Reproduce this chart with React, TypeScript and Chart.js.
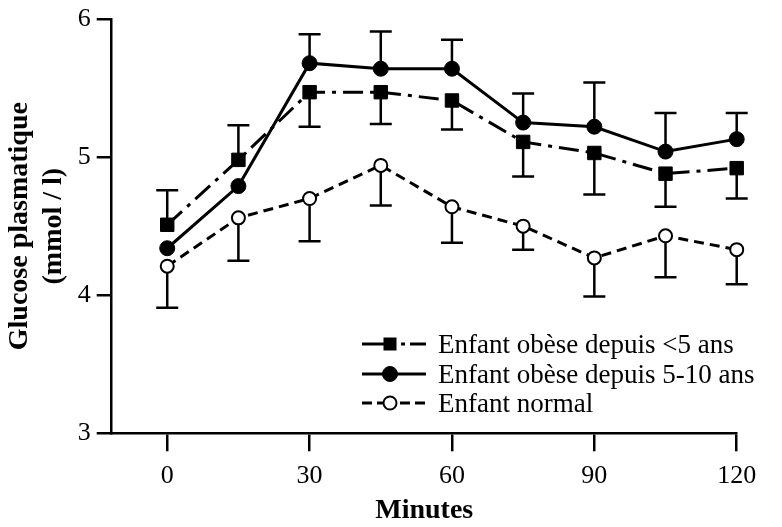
import React, { useEffect, useRef } from "react";
import { Chart, registerables } from "chart.js";

Chart.register(...registerables);

// ---- data ----
const minutes = [0, 15, 30, 45, 60, 75, 90, 105, 120];
const xTickValues = [0, 30, 60, 90, 120];
const yTickValues = [3, 4, 5, 6];
const seriesLabels = [
  "Enfant obèse depuis <5 ans",
  "Enfant obèse depuis 5-10 ans",
  "Enfant normal",
];
const obeseUnder5 = [4.51, 4.98, 5.47, 5.47, 5.41, 5.11, 5.03, 4.88, 4.92];
const obeseUnder5Upper = [4.76, 5.23, null, null, null, null, null, null, null];
const obeseUnder5Lower = [null, null, 5.22, 5.24, 5.2, 4.86, 4.73, 4.64, 4.7];
const obese5to10 = [4.34, 4.79, 5.68, 5.64, 5.64, 5.25, 5.22, 5.04, 5.13];
const obese5to10Upper = [null, null, 5.89, 5.91, 5.85, 5.46, 5.54, 5.32, 5.32];
const normalChild = [4.21, 4.56, 4.7, 4.94, 4.64, 4.5, 4.27, 4.43, 4.33];
const normalChildLower = [3.91, 4.25, 4.39, 4.65, 4.38, 4.33, 3.99, 4.13, 4.08];

const W = 782;
const H = 527;
const FONT = "'Liberation Serif', 'Times New Roman', serif";

type Bars = { upper: (number | null)[]; lower: (number | null)[] };
const errorBars: Bars[] = [
  { upper: obeseUnder5Upper, lower: obeseUnder5Lower },
  { upper: obese5to10Upper, lower: minutes.map(() => null) },
  { upper: minutes.map(() => null), lower: normalChildLower },
];

const errorBarPlugin = {
  id: "errorBars",
  beforeDatasetsDraw(chart: any) {
    const { ctx } = chart;
    const xs = chart.scales.x;
    const ys = chart.scales.y;
    ctx.save();
    ctx.strokeStyle = "#000";
    ctx.lineWidth = 2.5;
    ctx.setLineDash([]);
    const cap = 11;
    errorBars.forEach((b, di) => {
      const vals = chart.data.datasets[di].data as { x: number; y: number }[];
      vals.forEach((p, i) => {
        const px = xs.getPixelForValue(p.x);
        const py = ys.getPixelForValue(p.y);
        [b.upper[i], b.lower[i]].forEach((e) => {
          if (e === null || e === undefined) return;
          const ey = ys.getPixelForValue(e);
          ctx.beginPath();
          ctx.moveTo(px, py);
          ctx.lineTo(px, ey);
          ctx.moveTo(px - cap, ey);
          ctx.lineTo(px + cap, ey);
          ctx.stroke();
        });
      });
    });
    ctx.restore();
  },
};

const legendPlugin = {
  id: "customLegend",
  afterDraw(chart: any) {
    const { ctx } = chart;
    const rows = [353, 383, 412];
    const x0 = 362;
    const x1 = 426;
    const mx = 390;
    const tx = 438;
    ctx.save();
    chart.data.datasets.forEach((ds: any, i: number) => {
      const y = rows[i] - 9;
      ctx.strokeStyle = "#000";
      ctx.lineWidth = 3;
      ctx.beginPath();
      if (i === 0) ctx.setLineDash([23, 16, 4, 5, 16, 100]);
      else if (i === 2) ctx.setLineDash([10, 5, 9, 14, 10, 5, 10, 100]);
      else ctx.setLineDash([]);
      ctx.moveTo(x0, y);
      ctx.lineTo(x1, y);
      ctx.stroke();
      ctx.setLineDash([]);
      ctx.fillStyle = ds.pointBackgroundColor;
      ctx.lineWidth = ds.pointBorderWidth;
      ctx.beginPath();
      if (ds.pointStyle === "rect") {
        ctx.rect(mx - 6.5, y - 6.5, 13, 13);
        ctx.fill();
      } else {
        ctx.arc(mx, y, ds.pointRadius, 0, Math.PI * 2);
        ctx.fill();
        ctx.stroke();
      }
      ctx.fillStyle = "#000";
      ctx.font = `27px ${FONT}`;
      ctx.textAlign = "left";
      ctx.textBaseline = "alphabetic";
      ctx.fillText(ds.label, tx, rows[i]);
    });
    ctx.restore();
  },
};

export default function App() {
  const ref = useRef<HTMLCanvasElement | null>(null);
  useEffect(() => {
    if (!ref.current) return;
    Chart.defaults.font.family = FONT;
    Chart.defaults.color = "#000";
    const mk = (vals: number[]) => minutes.map((m, i) => ({ x: m, y: vals[i] }));
    const chart = new Chart(ref.current, {
      type: "line",
      data: {
        datasets: [
          {
            label: seriesLabels[0],
            data: mk(obeseUnder5),
            borderColor: "#000",
            borderWidth: 3,
            borderDash: [20, 7, 4, 7],
            pointStyle: "rect",
            pointRadius: 9.5,
            pointBackgroundColor: "#000",
            pointBorderColor: "#000",
            pointBorderWidth: 1,
            tension: 0,
            fill: false,
            clip: false,
          },
          {
            label: seriesLabels[1],
            data: mk(obese5to10),
            borderColor: "#000",
            borderWidth: 3,
            pointStyle: "circle",
            pointRadius: 7.5,
            pointBackgroundColor: "#000",
            pointBorderColor: "#000",
            pointBorderWidth: 1,
            tension: 0,
            fill: false,
            clip: false,
          },
          {
            label: seriesLabels[2],
            data: mk(normalChild),
            borderColor: "#000",
            borderWidth: 3,
            borderDash: [10, 6],
            pointStyle: "circle",
            pointRadius: 6.5,
            pointBackgroundColor: "#fff",
            pointBorderColor: "#000",
            pointBorderWidth: 2,
            tension: 0,
            fill: false,
            clip: false,
          },
        ],
      } as any,
      options: {
        animation: false,
        responsive: false,
        devicePixelRatio: 1,
        events: [],
        layout: { padding: { left: 0, top: 13.3, right: W - 736.7, bottom: 0 } },
        plugins: { legend: { display: false }, tooltip: { enabled: false } },
        scales: {
          x: {
            type: "linear",
            min: -11.7,
            max: 120,
            afterBuildTicks: (s: any) => {
              s.ticks = xTickValues.map((v) => ({ value: v }));
            },
            afterFit: (s: any) => {
              s.height = H - 433.3;
            },
            grid: {
              drawOnChartArea: false,
              drawTicks: true,
              tickLength: 18,
              color: "#000",
              lineWidth: 2.5,
            },
            border: { display: true, color: "#000", width: 2.5 },
            ticks: {
              color: "#000",
              font: { size: 26, lineHeight: 1 },
              padding: 12,
              maxRotation: 0,
              autoSkip: false,
            },
            title: {
              display: true,
              text: "Minutes",
              color: "#000",
              font: { size: 28, weight: "bold", lineHeight: 1.18 },
              padding: 0,
            },
          },
          y: {
            type: "linear",
            min: 3,
            max: 6,
            afterBuildTicks: (s: any) => {
              s.ticks = yTickValues.map((v) => ({ value: v }));
            },
            afterFit: (s: any) => {
              s.width = 111.7;
            },
            grid: {
              drawOnChartArea: false,
              drawTicks: true,
              tickLength: 15,
              color: "#000",
              lineWidth: 2.5,
            },
            border: { display: true, color: "#000", width: 2.5 },
            ticks: {
              color: "#000",
              font: { size: 26, lineHeight: 1 },
              padding: 6,
            },
            title: {
              display: true,
              text: ["Glucose plasmatique", "(mmol / l)"],
              color: "#000",
              font: { size: 28, weight: "bold", lineHeight: 1.21 },
              padding: { top: 2.5, bottom: 0 },
            },
          },
        },
      } as any,
      plugins: [errorBarPlugin, legendPlugin],
    });
    return () => chart.destroy();
  }, []);
  return (
    <div style={{ position: "absolute", left: 0, top: 0, width: W, height: H, background: "#fff" }}>
      <canvas ref={ref} width={W} height={H} style={{ width: W, height: H, display: "block" }} />
    </div>
  );
}
